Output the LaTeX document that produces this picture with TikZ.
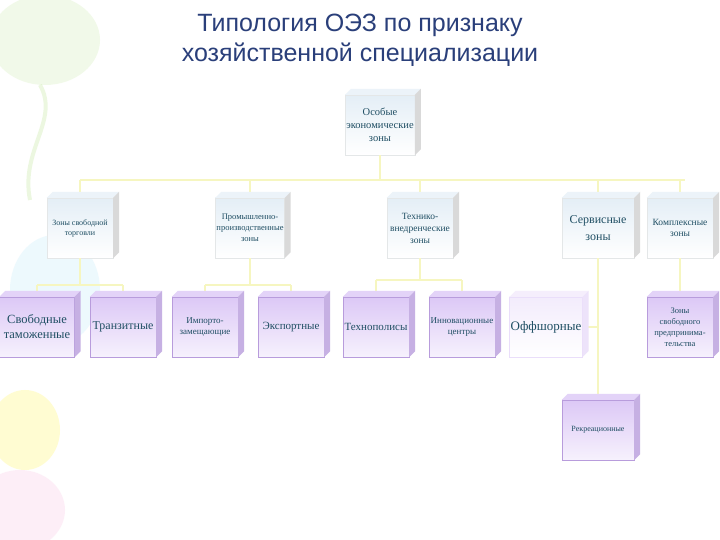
\documentclass[tikz,border=0pt]{standalone}
\usepackage{fontspec}
\setmainfont{Liberation Serif}
\newfontfamily\titlefont{Liberation Sans}
\usetikzlibrary{calc}
\definecolor{txt}{HTML}{1F4E63}
\definecolor{ttl}{HTML}{2A3F7A}
\definecolor{lnk}{HTML}{F6F6C0}
\definecolor{lav}{HTML}{DCC8F6}
\definecolor{lavb}{HTML}{B89CDC}
\definecolor{blu}{HTML}{E4EEF6}
\tikzset{
 x=1pt,y=1pt,
 lvla/.style={minimum width=66pt,minimum height=60pt,inner sep=1pt,align=center,text=txt,
   top color=blu,bottom color=white,draw=blu!60!gray!40},
 lvlb/.style={minimum width=66pt,minimum height=60pt,inner sep=1pt,align=center,text=txt,
   top color=lav,bottom color=lav!25,draw=lavb},
 lvlc/.style={minimum width=66pt,minimum height=60pt,inner sep=1pt,align=center,text=txt,
   top color=lav!35,bottom color=white,draw=lav!60},
 link/.style={draw=lnk,line width=2.5pt},
 deco/.style={opacity=0.35},
}
\newcommand{\cubefaces}[3]{%
 \fill[#2] (#1.north west) -- ++(6,6) -- ($(#1.north east)+(6,6)$) -- (#1.north east) -- cycle;
 \fill[#3] (#1.north east) -- ++(6,6) -- ($(#1.south east)+(6,6)$) -- (#1.south east) -- cycle;}
\begin{document}
\begin{tikzpicture}
\useasboundingbox (0,0) rectangle (720,540);
\fill[white] (0,0) rectangle (720,540);
% faint decorative balloons
\fill[deco,yellow!40!green!25] (45,500) ellipse (55 and 45);
\draw[deco,yellow!40!green!35,line width=4pt] (40,455) .. controls (60,420) and (20,390) .. (30,340);
\fill[deco,cyan!20] (55,250) ellipse (45 and 55);
\fill[deco,yellow!50] (25,110) ellipse (35 and 40);
\fill[deco,magenta!18] (20,30) ellipse (45 and 40);
\node[font=\titlefont\fontsize{25}{30}\selectfont,text=ttl,align=center] (title) at (360,500)
 {Типология ОЭЗ по признаку\\хозяйственной специализации};
\coordinate (hA) at (80,360); \coordinate (hB) at (685,360);
\node[lvla,font=\fontsize{10.5}{13}\selectfont,minimum width=64pt] (root) at (380,415) {Особые\\экономические\\зоны};
\node[lvla,font=\fontsize{8}{10}\selectfont] (a1) at (80,312) {Зоны свободной\\торговли};
\node[lvla,font=\fontsize{8.5}{11}\selectfont] (a2) at (250,312) {Промышленно-\\производственные\\зоны};
\node[lvla,font=\fontsize{9.5}{12}\selectfont] (a3) at (420,312) {Технико-\\внедренческие\\зоны};
\node[lvla,font=\fontsize{12}{17}\selectfont,minimum width=72pt] (a4) at (598,312) {Сервисные\\зоны};
\node[lvla,font=\fontsize{9.5}{11}\selectfont] (a5) at (680,312) {Комплексные\\зоны};
\node[lvlb,font=\fontsize{12.5}{15}\selectfont,minimum width=75pt] (b1) at (37,213) {Свободные\\таможенные};
\node[lvlb,font=\fontsize{12}{14}\selectfont] (b2) at (123,213) {Транзитные};
\node[lvlb,font=\fontsize{9}{11}\selectfont] (b3) at (205,213) {Импорто-\\замещающие};
\node[lvlb,font=\fontsize{11}{13}\selectfont] (b4) at (291,213) {Экспортные};
\node[lvlb,font=\fontsize{11}{13}\selectfont] (b5) at (376,213) {Технополисы};
\node[lvlb,font=\fontsize{9}{11}\selectfont] (b6) at (462,213) {Инновационные\\центры};
\node[lvlc,font=\fontsize{13}{15}\selectfont] (b7) at (546,213) {Оффшорные};
\node[lvlb,font=\fontsize{8.5}{11}\selectfont] (b8) at (680,213) {Зоны\\свободного\\предпринима-\\тельства};
\node[lvlb,font=\fontsize{8}{10}\selectfont,minimum width=72pt] (c1) at (598,110) {Рекреационные};
% connectors
\draw[link] (root.south) -- (root.south|-hA);
\draw[link] (hA) -- (hB);
\foreach \n in {a1,a2,a3,a4,a5}{\draw[link] (\n.north|-hA) -- (\n.north);}
\draw[link] (a1.south) -- ++(0,-27) coordinate (k1); \draw[link] (k1-|b1.north) -- (k1-|b2.north);
\draw[link] (k1-|b1.north) -- (b1.north); \draw[link] (k1-|b2.north) -- (b2.north);
\draw[link] (a2.south) -- ++(0,-27) coordinate (k2); \draw[link] (k2-|b3.north) -- (k2-|b4.north);
\draw[link] (k2-|b3.north) -- (b3.north); \draw[link] (k2-|b4.north) -- (b4.north);
\draw[link] (a3.south) -- ++(0,-22) coordinate (k3); \draw[link] (k3-|b5.north) -- (k3-|b6.north);
\draw[link] (k3-|b5.north) -- (b5.north); \draw[link] (k3-|b6.north) -- (b6.north);
\draw[link] (a4.south) -- ++(0,-127) coordinate (k4) -- (k4-|c1.north) -- (c1.north);
\draw[link] (b7.east) -- (b7.east-|a4.south);
\draw[link] (a5.south) -- (b8.north);
% cube faces
\foreach \n in {root,a1,a2,a3,a4,a5}{\cubefaces{\n}{blu!70}{gray!30}}
\foreach \n in {b1,b2,b3,b4,b5,b6,b8,c1}{\cubefaces{\n}{lav!80}{lavb!80}}
\cubefaces{b7}{lav!30}{lav!50}
\end{tikzpicture}
\end{document}
